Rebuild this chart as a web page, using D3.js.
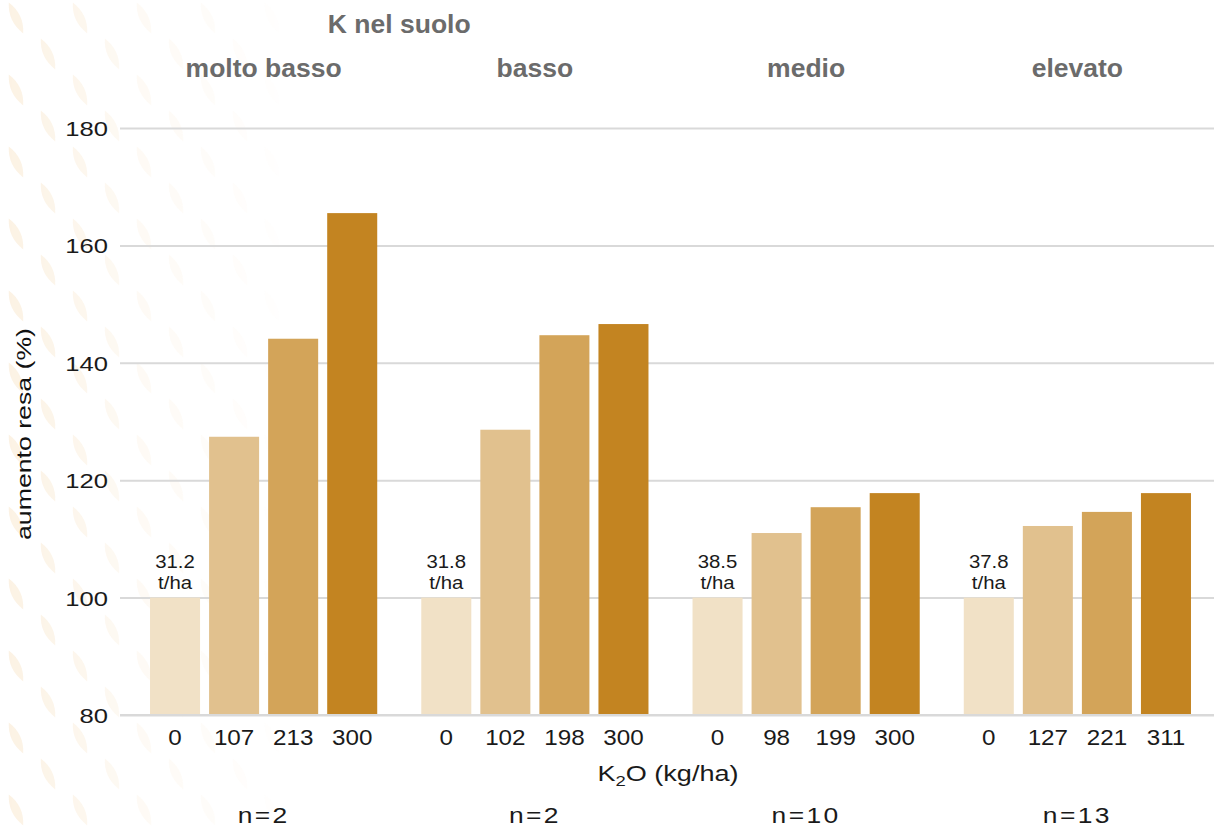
<!DOCTYPE html>
<html>
<head>
<meta charset="utf-8">
<script src="https://cdn.jsdelivr.net/npm/d3@7"></script>
<style>
  html, body { margin: 0; padding: 0; background: #fff; }
  svg { display: block; }
</style>
</head>
<body>
<svg id="chart" width="1214" height="828"></svg>
<script>
const groups = ["molto basso", "basso", "medio", "elevato"];
const doses = [["0", "107", "213", "300"], ["0", "102", "198", "300"], ["0", "98", "199", "300"], ["0", "127", "221", "311"]];
const values = [[100, 127.4, 144.1, 165.5], [100, 128.6, 144.7, 146.6], [100, 111.0, 115.4, 117.8], [100, 112.2, 114.6, 117.8]];
const controlYield = ["31.2", "31.8", "38.5", "37.8"];
const nObs = ["2", "2", "10", "13"];
const yTicks = [80, 100, 120, 140, 160, 180];
const barColors = ["#f1e1c6", "#e1c18e", "#d3a459", "#c38421"];

const svg = d3.select("#chart");
const W = 1214, H = 828;
const font = "'Liberation Sans', Arial, Helvetica, sans-serif";

// decorative faint background pattern on the left
const defs = svg.append("defs");
const pat = defs.append("pattern").attr("id", "dia").attr("patternUnits", "userSpaceOnUse")
  .attr("width", 64).attr("height", 72);
const lens = "M0,-17 C6,-6 6,6 0,17 C-6,6 -6,-6 0,-17Z";
[[16, 18], [48, 54], [48, -18], [16, 90]].forEach(([cx, cy]) => {
  pat.append("path").attr("d", lens).attr("transform", `translate(${cx},${cy}) rotate(-25)`).attr("fill", "#f6dcb5");
});
const grad = defs.append("linearGradient").attr("id", "fade").attr("x1", 0).attr("x2", 1).attr("y1", 0).attr("y2", 0);
grad.append("stop").attr("offset", "0").attr("stop-color", "#fff").attr("stop-opacity", 0.38);
grad.append("stop").attr("offset", "0.45").attr("stop-color", "#fff").attr("stop-opacity", 0.14);
grad.append("stop").attr("offset", "1").attr("stop-color", "#fff").attr("stop-opacity", 0);
const mask = defs.append("mask").attr("id", "fadeMask");
mask.append("rect").attr("width", 300).attr("height", H).attr("fill", "url(#fade)");
svg.append("rect").attr("width", 300).attr("height", H).attr("fill", "url(#dia)").attr("mask", "url(#fadeMask)");

const y = d3.scaleLinear().domain([80, 180]).range([715, 128]);
const x0 = d3.scaleBand().domain(groups).range([128, 1213]);
const x1 = d3.scaleBand().domain([0, 1, 2, 3]).range([0, x0.bandwidth()]).paddingInner(0.153).paddingOuter(0.373);

// horizontally stretched text helper
function stext(sel, x, yy, txt, size, sx, anchor, fill) {
  return sel.append("text")
    .attr("transform", `translate(${x},${yy}) scale(${sx},1)`)
    .attr("text-anchor", anchor || "middle")
    .attr("font-family", font).attr("font-size", size).attr("fill", fill || "#1a1a1a")
    .text(txt);
}

// gridlines via axis
const yAxis = d3.axisLeft(y).tickValues(yTicks).tickSize(-(1214 - 120)).tickFormat("");
const gy = svg.append("g").attr("transform", "translate(120,0)").call(yAxis);
gy.select(".domain").remove();
gy.selectAll(".tick line").attr("stroke", "#d9d9d9").attr("stroke-width", 2);
// y tick labels
gy.selectAll(".tick").each(function(d) {
  stext(d3.select(this), -12, 7.5, String(d), 21, 1.22, "end");
});

// bars
const g = svg.append("g");
groups.forEach((grp, gi) => {
  const gg = g.append("g").attr("transform", `translate(${x0(grp)},0)`);
  gg.selectAll("rect").data(values[gi]).join("rect")
    .attr("x", (d, i) => x1(i))
    .attr("y", d => y(d))
    .attr("width", x1.bandwidth())
    .attr("height", d => y(80) - y(d))
    .attr("fill", (d, i) => barColors[i]);
  // x labels
  doses[gi].forEach((d, i) => stext(gg, x1(i) + x1.bandwidth() / 2, 745, d, 22, 1.1));
  // control yield label
  const cx = x1(0) + x1.bandwidth() / 2;
  stext(gg, cx, y(values[gi][0]) - 30, controlYield[gi], 18.5, 1.1);
  stext(gg, cx, y(values[gi][0]) - 9, "t/ha", 18.5, 1.1);
  // group header
  gg.append("text").attr("x", x0.bandwidth() / 2).attr("y", 77).attr("text-anchor", "middle")
    .attr("font-family", font).attr("font-weight", "bold").attr("font-size", 26.5).attr("fill", "#6b6b6b").text(grp);
  // n labels
  stext(gg, x0.bandwidth() / 2, 823, "n=" + nObs[gi], 22, 1.2).attr("letter-spacing", 2);
});

// baseline redraw over bars
svg.append("line").attr("x1", 120).attr("x2", 1214).attr("y1", y(80)).attr("y2", y(80))
  .attr("stroke", "#d9d9d9").attr("stroke-width", 2);

// top title
const tx = (x0(groups[0]) + x0(groups[1]) + x0.bandwidth()) / 2;
svg.append("text").attr("x", tx).attr("y", 33).attr("text-anchor", "middle")
  .attr("font-family", font).attr("font-weight", "bold").attr("font-size", 26.5).attr("fill", "#6b6b6b").text("K nel suolo");

// x axis title
const xt = svg.append("text").attr("transform", "translate(668,781) scale(1.23,1)").attr("text-anchor", "middle")
  .attr("font-family", font).attr("font-size", 22).attr("fill", "#1a1a1a");
xt.append("tspan").text("K");
xt.append("tspan").attr("dy", 5).attr("font-size", 15).text("2");
xt.append("tspan").attr("dy", -5).text("O (kg/ha)");

// y axis title
svg.append("text").attr("transform", "translate(31,434) rotate(-90) scale(1.27,1)").attr("text-anchor", "middle")
  .attr("font-family", font).attr("font-size", 21).attr("fill", "#111").text("aumento resa (%)");
</script>
</body>
</html>
